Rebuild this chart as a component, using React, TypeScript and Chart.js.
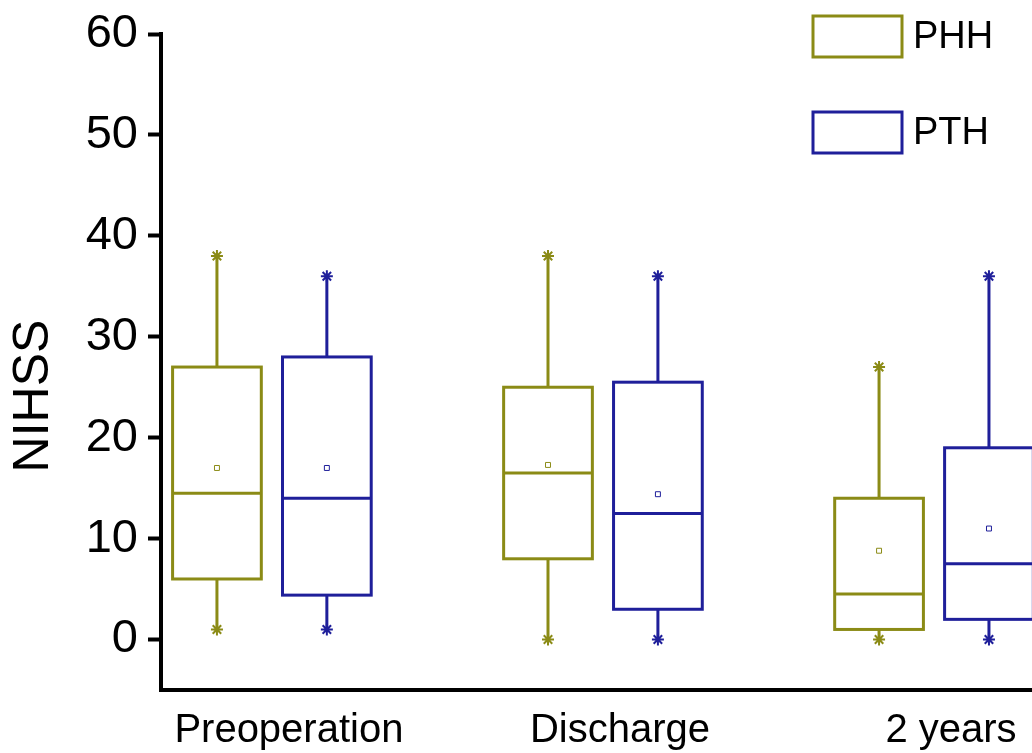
import { useEffect, useRef } from "react";
import { Chart, registerables } from "chart.js";

Chart.register(...registerables);

// ---- data ----
const categories = ["Preoperation", "Discharge", "2 years"];
const seriesNames = ["PHH", "PTH"];
const seriesColors = ["#8b8b16", "#1f1f9a"];

const phhMin = [1, 0, 0];
const phhQ1 = [6, 8, 1];
const phhMedian = [14.5, 16.5, 4.5];
const phhQ3 = [27, 25, 14];
const phhMax = [38, 38, 27];
const phhMean = [17, 17.3, 8.8];

const pthMin = [1, 0, 0];
const pthQ1 = [4.4, 3, 2];
const pthMedian = [14, 12.5, 7.5];
const pthQ3 = [28, 25.5, 19];
const pthMax = [36, 36, 36];
const pthMean = [17, 14.4, 11];

const yTicks = [0, 10, 20, 30, 40, 50, 60];
const yTitle = "NIHSS";

// ---- layout constants ----
const FONT = "'Liberation Sans', Arial, Helvetica, sans-serif";
const GROUP_OFFSET = 0.166;
const BOX_HALF = 0.134;

const stats = [
  { min: phhMin, q1: phhQ1, med: phhMedian, q3: phhQ3, max: phhMax, mean: phhMean },
  { min: pthMin, q1: pthQ1, med: pthMedian, q3: pthQ3, max: pthMax, mean: pthMean },
];

const xOf = (catIdx: number, s: number) =>
  catIdx + 1 + (s === 0 ? -GROUP_OFFSET : GROUP_OFFSET);

const boxPlugin = {
  id: "boxes",
  beforeDatasetsDraw(chart: any) {
    const { ctx, scales } = chart;
    const xs = scales.x;
    const ys = scales.y;
    ctx.save();
    stats.forEach((st, s) => {
      ctx.strokeStyle = seriesColors[s];
      categories.forEach((_, i) => {
        const cx = xs.getPixelForValue(xOf(i, s));
        const l = xs.getPixelForValue(xOf(i, s) - BOX_HALF);
        const r = xs.getPixelForValue(xOf(i, s) + BOX_HALF);
        const yq1 = ys.getPixelForValue(st.q1[i]);
        const yq3 = ys.getPixelForValue(st.q3[i]);
        const ymed = ys.getPixelForValue(st.med[i]);
        const ymin = ys.getPixelForValue(st.min[i]);
        const ymax = ys.getPixelForValue(st.max[i]);
        ctx.lineWidth = 3;
        ctx.beginPath();
        ctx.moveTo(cx, yq3);
        ctx.lineTo(cx, ymax);
        ctx.moveTo(cx, yq1);
        ctx.lineTo(cx, ymin);
        ctx.stroke();
        ctx.strokeRect(l, yq3, r - l, yq1 - yq3);
        ctx.beginPath();
        ctx.moveTo(l, ymed);
        ctx.lineTo(r, ymed);
        ctx.stroke();
      });
    });
    ctx.restore();
  },
};

const legendPlugin = {
  id: "boxLegend",
  afterDraw(chart: any) {
    const { ctx } = chart;
    ctx.save();
    seriesNames.forEach((name, s) => {
      const bx = 813;
      const by = 16 + s * 96;
      ctx.strokeStyle = seriesColors[s];
      ctx.lineWidth = 3;
      ctx.strokeRect(bx, by, 89, 41);
      ctx.fillStyle = "#000";
      ctx.font = `38px ${FONT}`;
      ctx.textBaseline = "middle";
      ctx.textAlign = "left";
      ctx.fillText(name, bx + 100, by + 22);
    });
    ctx.restore();
  },
};

const titlePlugin = {
  id: "yTitle",
  afterDraw(chart: any) {
    const { ctx } = chart;
    ctx.save();
    ctx.translate(34, 396);
    ctx.rotate(-Math.PI / 2);
    ctx.fillStyle = "#000";
    ctx.font = `50px ${FONT}`;
    ctx.textAlign = "center";
    ctx.textBaseline = "middle";
    ctx.fillText(yTitle, 0, 0);
    ctx.restore();
  },
};

export default function App() {
  const ref = useRef<HTMLCanvasElement>(null);

  useEffect(() => {
    if (!ref.current) return;
    Chart.defaults.font.family = FONT;

    const datasets: any[] = [];
    stats.forEach((st, s) => {
      datasets.push({
        label: seriesNames[s] + " mean",
        data: categories.map((_, i) => ({ x: xOf(i, s), y: st.mean[i] })),
        pointStyle: "rect",
        pointRadius: 3.5,
        borderColor: seriesColors[s],
        backgroundColor: "rgba(0,0,0,0)",
        borderWidth: 1,
        showLine: false,
      });
      datasets.push({
        label: seriesNames[s] + " range",
        data: categories.flatMap((_, i) => [
          { x: xOf(i, s), y: st.min[i] },
          { x: xOf(i, s), y: st.max[i] },
        ]),
        pointStyle: "star",
        pointRadius: 6,
        borderColor: seriesColors[s],
        backgroundColor: seriesColors[s],
        borderWidth: 2,
        showLine: false,
      });
    });

    const chart = new Chart(ref.current, {
      type: "scatter",
      data: { datasets },
      options: {
        animation: false,
        responsive: false,
        layout: { padding: { top: 34, right: 0, left: 0, bottom: 0 } },
        plugins: { legend: { display: false }, tooltip: { enabled: false } },
        scales: {
          x: {
            type: "linear",
            min: 0.665,
            max: 3.296,
            afterBuildTicks: (scale: any) => {
              scale.ticks = categories.map((_, i) => ({ value: i + 1 }));
            },
            afterFit: (scale: any) => {
              scale.height = 63;
            },
            ticks: {
              callback: (v: any) => categories[Math.round(v) - 1] ?? "",
              color: "#000",
              font: { size: 40, family: FONT },
              padding: 17,
              labelOffset: 17,
              maxRotation: 0,
              autoSkip: false,
            },
            grid: { display: false, drawTicks: false },
            border: { display: true, color: "#000", width: 4 },
          },
          y: {
            type: "linear",
            min: -5,
            max: 60,
            afterBuildTicks: (scale: any) => {
              scale.ticks = yTicks.map((v) => ({ value: v }));
            },
            afterFit: (scale: any) => {
              scale.width = 161;
            },
            ticks: {
              color: "#000",
              font: { size: 47, family: FONT, lineHeight: 1 },
              padding: 10,
            },
            grid: {
              display: true,
              drawOnChartArea: false,
              drawTicks: true,
              tickLength: 13,
              tickWidth: 4,
              tickColor: "#000",
            },
            border: { display: true, color: "#000", width: 4 },
          },
        },
      } as any,
      plugins: [boxPlugin, legendPlugin, titlePlugin],
    });
    return () => chart.destroy();
  }, []);

  return (
    <canvas
      ref={ref}
      width={1040}
      height={753}
      style={{ position: "fixed", left: 0, top: 0, display: "block", background: "#fff" }}
    />
  );
}
